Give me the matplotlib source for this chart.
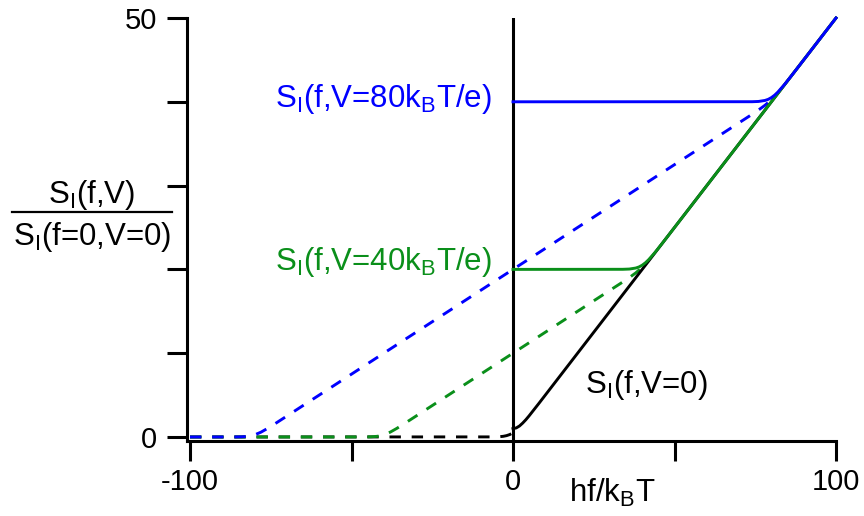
import matplotlib
matplotlib.use("Agg")
import matplotlib.pyplot as plt
from matplotlib.lines import Line2D

plt.rcParams['font.family'] = ['Liberation Sans', 'DejaVu Sans']
plt.rcParams['mathtext.fontset'] = 'custom'
plt.rcParams['mathtext.rm'] = 'Liberation Sans'
plt.rcParams['mathtext.it'] = 'Liberation Sans:italic'
plt.rcParams['mathtext.bf'] = 'Liberation Sans:bold'

# ---- data ----
x_v0_solid = [0, 1, 2, 3, 4, 5, 6, 8, 10, 100]
y_v0_solid = [1.00, 1.08, 1.31, 1.66, 2.07, 2.53, 3.02, 4.00, 5.00, 50.0]
x_v0_dash = [-100, -6, -4, -3, -2, -1, 0]
y_v0_dash = [0.0, 0.01, 0.04, 0.08, 0.16, 0.29, 0.50]

x_v40_solid = [0, 34, 36, 38, 39, 40, 41, 42, 44, 46, 48, 100]
y_v40_solid = [20.0, 20.01, 20.04, 20.16, 20.29, 20.5, 20.79, 21.16, 22.04, 23.01, 24.0, 50.0]
x_v40_dash = [-100, -46, -44, -42, -40, -38, -36, -34, 0, 34, 36, 38, 40]
y_v40_dash = [0.0, 0.004, 0.02, 0.08, 0.25, 0.58, 1.02, 1.50, 10.0, 18.5, 19.02, 19.58, 20.25]

x_v80_solid = [0, 74, 76, 78, 79, 80, 81, 82, 84, 86, 88, 100]
y_v80_solid = [40.0, 40.01, 40.04, 40.16, 40.29, 40.5, 40.79, 41.16, 42.04, 43.01, 44.0, 50.0]
x_v80_dash = [-100, -86, -84, -82, -80, -78, -76, -74, 0, 74, 76, 78, 80]
y_v80_dash = [0.0, 0.004, 0.02, 0.08, 0.25, 0.58, 1.02, 1.50, 20.0, 38.5, 39.02, 39.58, 40.25]

x_ticks = [-100, -50, 0, 50, 100]
x_ticklabels = ['-100', '', '0', '', '100']
y_ticks = [0, 10, 20, 30, 40, 50]
y_ticklabels = ['0', '', '', '', '', '50']

BLUE = '#0000ff'
GREEN = '#0a8f1a'
BLACK = '#000000'
FS = 22.5
SUB_I = r'$\mathregular{_I}$'
SUB_B = r'$\mathregular{_B}$'

W, H = 864, 516
fig = plt.figure(figsize=(W / 100, H / 100), dpi=100)
ax = fig.add_axes([187 / W, 1 - 441 / H, (836 - 187) / W, (441 - 18) / H])
ax.set_xlim(-100.93, 100)
ax.set_ylim(-0.48, 50)

lw = 2.1
dash = (3.9, 3.7)
ax.axvline(0, color=BLACK, lw=2.2, zorder=1)
ax.plot(x_v0_dash, y_v0_dash, color=BLACK, lw=lw, dashes=dash, clip_on=False)
ax.plot(x_v40_dash, y_v40_dash, color=GREEN, lw=lw, dashes=dash, clip_on=False)
ax.plot(x_v80_dash, y_v80_dash, color=BLUE, lw=lw, dashes=dash, clip_on=False)
ax.plot(x_v0_solid, y_v0_solid, color=BLACK, lw=lw, clip_on=False)
ax.plot(x_v40_solid, y_v40_solid, color=GREEN, lw=lw, clip_on=False)
ax.plot(x_v80_solid, y_v80_solid, color=BLUE, lw=lw, clip_on=False)

for s in ['top', 'right']:
    ax.spines[s].set_visible(False)
for s in ['left', 'bottom']:
    ax.spines[s].set_linewidth(2.2)

ax.set_xticks(x_ticks)
ax.set_xticklabels(x_ticklabels)
ax.set_yticks(y_ticks)
ax.set_yticklabels(y_ticklabels)
ax.tick_params(axis='x', direction='out', length=14.4, width=2.2, pad=5, labelsize=21)
ax.tick_params(axis='y', direction='out', length=14.4, width=2.2, pad=7, labelsize=21)

ax.text(-6.5, 39.4, 'S' + SUB_I + '(f,V=80k' + SUB_B + 'T/e)', color=BLUE, fontsize=FS,
        ha='right', va='baseline')
ax.text(-6.5, 19.9, 'S' + SUB_I + '(f,V=40k' + SUB_B + 'T/e)', color=GREEN, fontsize=FS,
        ha='right', va='baseline')
ax.text(22.3, 5.25, 'S' + SUB_I + '(f,V=0)', color=BLACK, fontsize=FS,
        ha='left', va='baseline')

fig.text(612 / W, 1 - 502 / H, 'hf/k' + SUB_B + 'T', fontsize=FS, ha='center', va='baseline')

fig.text(92 / W, 1 - 203 / H, 'S' + SUB_I + '(f,V)', fontsize=FS, ha='center', va='baseline')
fig.text(92 / W, 1 - 245 / H, 'S' + SUB_I + '(f=0,V=0)', fontsize=FS, ha='center', va='baseline')
fig.add_artist(Line2D([12 / W, 172 / W], [1 - 212 / H, 1 - 212 / H], transform=fig.transFigure,
                      color=BLACK, lw=1.6))

fig.savefig('out.png', dpi=100)
